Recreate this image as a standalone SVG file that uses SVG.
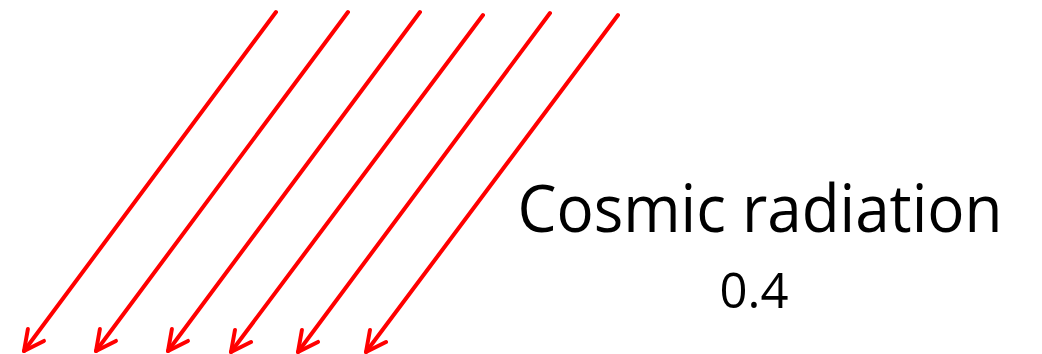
<svg xmlns="http://www.w3.org/2000/svg" width="1042" height="354" viewBox="0 0 1042 354">
<style>
.ray{stroke:#ff0000;stroke-width:4;fill:none;stroke-linecap:round;marker-end:url(#head)}
.lbl{font-family:"Open Sans","Liberation Sans",sans-serif;fill:#000;text-anchor:middle}
</style>
<defs>
<marker id="head" markerUnits="userSpaceOnUse" viewBox="-24 -13 28 26" refX="0" refY="0" markerWidth="28" markerHeight="26" orient="auto" overflow="visible">
<path d="M -20 -10 L 0 0 L -20 10" fill="none" stroke="#ff0000" stroke-width="4" stroke-linecap="round" stroke-linejoin="round"/>
</marker>
</defs>
<g id="connectors">
<line class="ray" x1="276" y1="12" x2="24" y2="351"/>
<line class="ray" x1="348" y1="12" x2="96" y2="351"/>
<line class="ray" x1="420" y1="12" x2="168" y2="351"/>
<line class="ray" x1="483" y1="15" x2="231" y2="352"/>
<line class="ray" x1="550" y1="13" x2="298" y2="352"/>
<line class="ray" x1="618" y1="15" x2="366" y2="352"/>
</g>
<g id="label">
<text class="lbl" x="760" y="232" font-size="66" textLength="485" lengthAdjust="spacingAndGlyphs">Cosmic radiation</text>
<text class="lbl" x="754" y="308" font-size="49">0.4</text>
</g>
</svg>
